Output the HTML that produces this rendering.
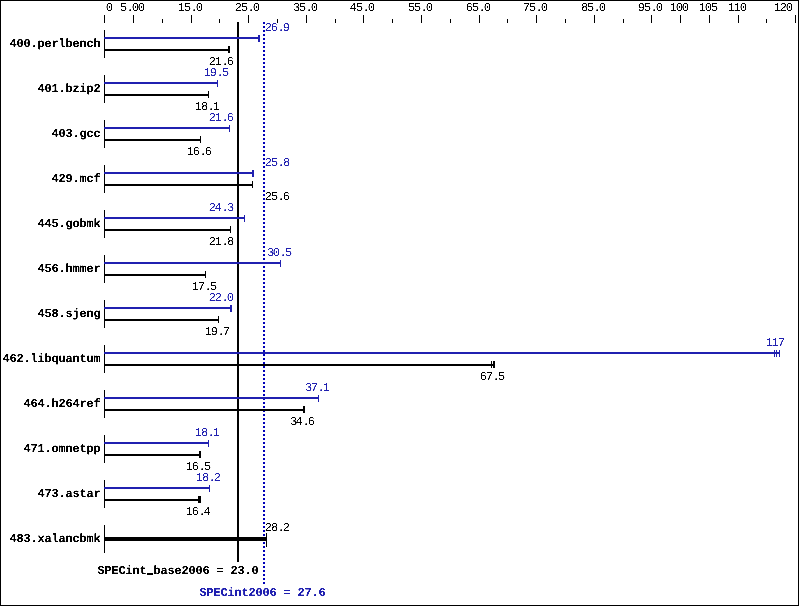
<!DOCTYPE html>
<html><head><meta charset="utf-8"><style>
html,body{margin:0;padding:0;background:#fff;width:799px;height:606px;overflow:hidden}
svg{display:block}
text{font-family:"Liberation Mono",monospace;font-size:12px;white-space:pre;text-rendering:geometricPrecision}
text.r{letter-spacing:-1.2px}
text.b{font-weight:bold;letter-spacing:-0.2px;stroke-width:0.1px}
</style></head><body>
<svg width="799" height="606" viewBox="0 0 799 606" shape-rendering="crispEdges">
<rect width="799" height="606" fill="#fff"/>
<rect x="0" y="0" width="799" height="1" fill="#000"/>
<rect x="0" y="605" width="799" height="1" fill="#000"/>
<rect x="0" y="0" width="1" height="606" fill="#000"/>
<rect x="798" y="0" width="1" height="606" fill="#000"/>
<rect x="104" y="15" width="1" height="8" fill="#000"/>
<rect x="133" y="15" width="1" height="8" fill="#000"/>
<rect x="162" y="19" width="1" height="4" fill="#000"/>
<rect x="191" y="15" width="1" height="8" fill="#000"/>
<rect x="219" y="19" width="1" height="4" fill="#000"/>
<rect x="248" y="15" width="1" height="8" fill="#000"/>
<rect x="277" y="19" width="1" height="4" fill="#000"/>
<rect x="306" y="15" width="1" height="8" fill="#000"/>
<rect x="335" y="19" width="1" height="4" fill="#000"/>
<rect x="363" y="15" width="1" height="8" fill="#000"/>
<rect x="392" y="19" width="1" height="4" fill="#000"/>
<rect x="421" y="15" width="1" height="8" fill="#000"/>
<rect x="450" y="19" width="1" height="4" fill="#000"/>
<rect x="479" y="15" width="1" height="8" fill="#000"/>
<rect x="507" y="19" width="1" height="4" fill="#000"/>
<rect x="536" y="15" width="1" height="8" fill="#000"/>
<rect x="565" y="19" width="1" height="4" fill="#000"/>
<rect x="594" y="15" width="1" height="8" fill="#000"/>
<rect x="623" y="19" width="1" height="4" fill="#000"/>
<rect x="651" y="15" width="1" height="8" fill="#000"/>
<rect x="680" y="15" width="1" height="8" fill="#000"/>
<rect x="709" y="15" width="1" height="8" fill="#000"/>
<rect x="738" y="15" width="1" height="8" fill="#000"/>
<rect x="766" y="19" width="1" height="4" fill="#000"/>
<rect x="795" y="15" width="1" height="8" fill="#000"/>
<rect x="237" y="22" width="2" height="540" fill="#000"/>
<path d="M263 22h2v2h-2zM263 26h2v2h-2zM263 30h2v2h-2zM263 34h2v2h-2zM263 38h2v2h-2zM263 42h2v2h-2zM263 46h2v2h-2zM263 50h2v2h-2zM263 54h2v2h-2zM263 58h2v2h-2zM263 62h2v2h-2zM263 66h2v2h-2zM263 70h2v2h-2zM263 74h2v2h-2zM263 78h2v2h-2zM263 82h2v2h-2zM263 86h2v2h-2zM263 90h2v2h-2zM263 94h2v2h-2zM263 98h2v2h-2zM263 102h2v2h-2zM263 106h2v2h-2zM263 110h2v2h-2zM263 114h2v2h-2zM263 118h2v2h-2zM263 122h2v2h-2zM263 126h2v2h-2zM263 130h2v2h-2zM263 134h2v2h-2zM263 138h2v2h-2zM263 142h2v2h-2zM263 146h2v2h-2zM263 150h2v2h-2zM263 154h2v2h-2zM263 158h2v2h-2zM263 162h2v2h-2zM263 166h2v2h-2zM263 170h2v2h-2zM263 174h2v2h-2zM263 178h2v2h-2zM263 182h2v2h-2zM263 186h2v2h-2zM263 190h2v2h-2zM263 194h2v2h-2zM263 198h2v2h-2zM263 202h2v2h-2zM263 206h2v2h-2zM263 210h2v2h-2zM263 214h2v2h-2zM263 218h2v2h-2zM263 222h2v2h-2zM263 226h2v2h-2zM263 230h2v2h-2zM263 234h2v2h-2zM263 238h2v2h-2zM263 242h2v2h-2zM263 246h2v2h-2zM263 250h2v2h-2zM263 254h2v2h-2zM263 258h2v2h-2zM263 262h2v2h-2zM263 266h2v2h-2zM263 270h2v2h-2zM263 274h2v2h-2zM263 278h2v2h-2zM263 282h2v2h-2zM263 286h2v2h-2zM263 290h2v2h-2zM263 294h2v2h-2zM263 298h2v2h-2zM263 302h2v2h-2zM263 306h2v2h-2zM263 310h2v2h-2zM263 314h2v2h-2zM263 318h2v2h-2zM263 322h2v2h-2zM263 326h2v2h-2zM263 330h2v2h-2zM263 334h2v2h-2zM263 338h2v2h-2zM263 342h2v2h-2zM263 346h2v2h-2zM263 350h2v2h-2zM263 354h2v2h-2zM263 358h2v2h-2zM263 362h2v2h-2zM263 366h2v2h-2zM263 370h2v2h-2zM263 374h2v2h-2zM263 378h2v2h-2zM263 382h2v2h-2zM263 386h2v2h-2zM263 390h2v2h-2zM263 394h2v2h-2zM263 398h2v2h-2zM263 402h2v2h-2zM263 406h2v2h-2zM263 410h2v2h-2zM263 414h2v2h-2zM263 418h2v2h-2zM263 422h2v2h-2zM263 426h2v2h-2zM263 430h2v2h-2zM263 434h2v2h-2zM263 438h2v2h-2zM263 442h2v2h-2zM263 446h2v2h-2zM263 450h2v2h-2zM263 454h2v2h-2zM263 458h2v2h-2zM263 462h2v2h-2zM263 466h2v2h-2zM263 470h2v2h-2zM263 474h2v2h-2zM263 478h2v2h-2zM263 482h2v2h-2zM263 486h2v2h-2zM263 490h2v2h-2zM263 494h2v2h-2zM263 498h2v2h-2zM263 502h2v2h-2zM263 506h2v2h-2zM263 510h2v2h-2zM263 514h2v2h-2zM263 518h2v2h-2zM263 522h2v2h-2zM263 526h2v2h-2zM263 530h2v2h-2zM263 534h2v2h-2zM263 538h2v2h-2zM263 542h2v2h-2zM263 546h2v2h-2zM263 550h2v2h-2zM263 554h2v2h-2zM263 558h2v2h-2zM263 562h2v2h-2zM263 566h2v2h-2zM263 570h2v2h-2zM263 574h2v2h-2zM263 578h2v2h-2zM263 582h2v2h-2z" fill="#0000b8"/>
<rect x="104" y="30" width="1" height="28" fill="#000"/>
<rect x="104" y="37" width="156" height="2" fill="#2020b0"/>
<rect x="258" y="35" width="1" height="7" fill="#2020b0"/>
<rect x="259" y="35" width="1" height="7" fill="#2020b0"/>
<rect x="104" y="49" width="126" height="2" fill="#000"/>
<rect x="228" y="46" width="1" height="7" fill="#000"/>
<rect x="229" y="46" width="1" height="7" fill="#000"/>
<rect x="104" y="75" width="1" height="28" fill="#000"/>
<rect x="104" y="82" width="114" height="2" fill="#2020b0"/>
<rect x="217" y="80" width="1" height="7" fill="#2020b0"/>
<rect x="104" y="94" width="105" height="2" fill="#000"/>
<rect x="208" y="91" width="1" height="7" fill="#000"/>
<rect x="104" y="120" width="1" height="28" fill="#000"/>
<rect x="104" y="127" width="126" height="2" fill="#2020b0"/>
<rect x="229" y="125" width="1" height="7" fill="#2020b0"/>
<rect x="104" y="139" width="97" height="2" fill="#000"/>
<rect x="200" y="136" width="1" height="7" fill="#000"/>
<rect x="104" y="165" width="1" height="28" fill="#000"/>
<rect x="104" y="172" width="150" height="2" fill="#2020b0"/>
<rect x="252" y="170" width="1" height="7" fill="#2020b0"/>
<rect x="253" y="170" width="1" height="7" fill="#2020b0"/>
<rect x="104" y="184" width="149" height="2" fill="#000"/>
<rect x="252" y="181" width="1" height="7" fill="#000"/>
<rect x="104" y="210" width="1" height="28" fill="#000"/>
<rect x="104" y="217" width="141" height="2" fill="#2020b0"/>
<rect x="244" y="215" width="1" height="7" fill="#2020b0"/>
<rect x="104" y="229" width="127" height="2" fill="#000"/>
<rect x="230" y="226" width="1" height="7" fill="#000"/>
<rect x="104" y="255" width="1" height="28" fill="#000"/>
<rect x="104" y="262" width="177" height="2" fill="#2020b0"/>
<rect x="280" y="260" width="1" height="7" fill="#2020b0"/>
<rect x="104" y="274" width="102" height="2" fill="#000"/>
<rect x="205" y="271" width="1" height="7" fill="#000"/>
<rect x="104" y="300" width="1" height="28" fill="#000"/>
<rect x="104" y="307" width="128" height="2" fill="#2020b0"/>
<rect x="230" y="305" width="1" height="7" fill="#2020b0"/>
<rect x="231" y="305" width="1" height="7" fill="#2020b0"/>
<rect x="104" y="319" width="115" height="2" fill="#000"/>
<rect x="218" y="316" width="1" height="7" fill="#000"/>
<rect x="104" y="345" width="1" height="28" fill="#000"/>
<rect x="104" y="352" width="676" height="2" fill="#2020b0"/>
<rect x="774" y="350" width="1" height="7" fill="#2020b0"/>
<rect x="776" y="350" width="1" height="7" fill="#2020b0"/>
<rect x="779" y="350" width="1" height="7" fill="#2020b0"/>
<rect x="104" y="364" width="391" height="2" fill="#000"/>
<rect x="491" y="361" width="1" height="7" fill="#000"/>
<rect x="493" y="361" width="1" height="7" fill="#000"/>
<rect x="494" y="361" width="1" height="7" fill="#000"/>
<rect x="104" y="390" width="1" height="28" fill="#000"/>
<rect x="104" y="397" width="215" height="2" fill="#2020b0"/>
<rect x="318" y="395" width="1" height="7" fill="#2020b0"/>
<rect x="104" y="409" width="201" height="2" fill="#000"/>
<rect x="303" y="406" width="1" height="7" fill="#000"/>
<rect x="304" y="406" width="1" height="7" fill="#000"/>
<rect x="104" y="435" width="1" height="28" fill="#000"/>
<rect x="104" y="442" width="105" height="2" fill="#2020b0"/>
<rect x="208" y="440" width="1" height="7" fill="#2020b0"/>
<rect x="104" y="454" width="97" height="2" fill="#000"/>
<rect x="199" y="451" width="1" height="7" fill="#000"/>
<rect x="200" y="451" width="1" height="7" fill="#000"/>
<rect x="104" y="480" width="1" height="28" fill="#000"/>
<rect x="104" y="487" width="106" height="2" fill="#2020b0"/>
<rect x="209" y="485" width="1" height="7" fill="#2020b0"/>
<rect x="104" y="499" width="97" height="2" fill="#000"/>
<rect x="198" y="496" width="1" height="7" fill="#000"/>
<rect x="199" y="496" width="1" height="7" fill="#000"/>
<rect x="200" y="496" width="1" height="7" fill="#000"/>
<rect x="104" y="525" width="1" height="28" fill="#000"/>
<rect x="104" y="537" width="162" height="4" fill="#000"/>
<rect x="266" y="533" width="1" height="14" fill="#000"/>
<rect x="147" y="573" width="6" height="2" fill="#000"/>
<defs>
<filter id="tr" filterUnits="userSpaceOnUse" x="0" y="0" width="799" height="606" color-interpolation-filters="sRGB"><feComponentTransfer><feFuncA type="table" tableValues="0 0 1 1"/></feComponentTransfer></filter>
<filter id="tb" filterUnits="userSpaceOnUse" x="0" y="0" width="799" height="606" color-interpolation-filters="sRGB"><feComponentTransfer><feFuncA type="table" tableValues="0 0 1 1"/></feComponentTransfer></filter>
</defs>
<g filter="url(#tr)">
<text class="r" x="105.75" y="11.0" fill="#000">0</text>
<text class="r" x="120 126.5 131.75 137.75" y="11.0" fill="#000">5.00</text>
<text class="r" x="669.75 675.75 681.75" y="11.0" fill="#000">100</text>
<text class="r" x="698.75 704.75 711" y="11.0" fill="#000">105</text>
<text class="r" x="727.75 733.75 739.75" y="11.0" fill="#000">110</text>
<text class="r" x="773.75 779.75 785.75" y="11.0" fill="#000">120</text>
<text class="r" x="177.75 184 190.5 195.75" y="11.0" fill="#000">15.0</text>
<text class="r" x="234.75 241 247.5 252.75" y="11.0" fill="#000">25.0</text>
<text class="r" x="293 299 305.5 310.75" y="11.0" fill="#000">35.0</text>
<text class="r" x="349.5 356 362.5 367.75" y="11.0" fill="#000">45.0</text>
<text class="r" x="408 414 420.5 425.75" y="11.0" fill="#000">55.0</text>
<text class="r" x="465.75 472 478.5 483.75" y="11.0" fill="#000">65.0</text>
<text class="r" x="522.75 529 535.5 540.75" y="11.0" fill="#000">75.0</text>
<text class="r" x="581 587 593.5 598.75" y="11.0" fill="#000">85.0</text>
<text class="r" x="637.75 644 650.5 655.75" y="11.0" fill="#000">95.0</text>
<text class="r" x="264.75 270.75 277.5 282.75" y="31.0" fill="#2020b0">26.9</text>
<text class="r" x="208.75 214.75 221.5 226.75" y="65.0" fill="#000">21.6</text>
<text class="r" x="203.75 209.75 216.5 222" y="76.0" fill="#2020b0">19.5</text>
<text class="r" x="194.75 201 207.5 212.75" y="110.0" fill="#000">18.1</text>
<text class="r" x="208.75 214.75 221.5 226.75" y="121.0" fill="#2020b0">21.6</text>
<text class="r" x="186.75 192.75 199.5 204.75" y="155.0" fill="#000">16.6</text>
<text class="r" x="264.75 271 277.5 283" y="166.0" fill="#2020b0">25.8</text>
<text class="r" x="264.75 271 277.5 282.75" y="200.0" fill="#000">25.6</text>
<text class="r" x="208.75 214.5 221.5 227" y="211.0" fill="#2020b0">24.3</text>
<text class="r" x="208.75 214.75 221.5 227" y="245.0" fill="#000">21.8</text>
<text class="r" x="267 272.75 279.5 285" y="256.0" fill="#2020b0">30.5</text>
<text class="r" x="191.75 197.75 204.5 210" y="290.0" fill="#000">17.5</text>
<text class="r" x="208.75 214.75 221.5 226.75" y="301.0" fill="#2020b0">22.0</text>
<text class="r" x="204.75 210.75 217.5 222.75" y="335.0" fill="#000">19.7</text>
<text class="r" x="765.75 771.75 777.75" y="346.0" fill="#2020b0">117</text>
<text class="r" x="479.75 485.75 492.5 498" y="380.0" fill="#000">67.5</text>
<text class="r" x="305 310.75 317.5 322.75" y="391.0" fill="#2020b0">37.1</text>
<text class="r" x="290 295.5 302.5 307.75" y="425.0" fill="#000">34.6</text>
<text class="r" x="194.75 201 207.5 212.75" y="436.0" fill="#2020b0">18.1</text>
<text class="r" x="185.75 191.75 198.5 204" y="470.0" fill="#000">16.5</text>
<text class="r" x="195.75 202 208.5 213.75" y="481.0" fill="#2020b0">18.2</text>
<text class="r" x="185.75 191.75 198.5 203.5" y="515.0" fill="#000">16.4</text>
<text class="r" x="264.75 271 277.5 282.75" y="531.0" fill="#000">28.2</text>
</g>
<g filter="url(#tb)">
<text class="b" x="9.5 16.5 23.5 30.5 37.5 44.5 51.5 58.5 65.5 72.5 79.5 86.5 93.5" y="47.0" fill="#000" stroke="#000">400.perlbench</text>
<text class="b" x="37.5 44.5 51.5 58.5 65.5 72.5 79.5 86.5 93.5" y="92.0" fill="#000" stroke="#000">401.bzip2</text>
<text class="b" x="51.5 58.5 65.5 72.5 79.5 86.5 93.5" y="137.0" fill="#000" stroke="#000">403.gcc</text>
<text class="b" x="51.5 58.5 65.5 72.5 79.5 86.5 93.5" y="182.0" fill="#000" stroke="#000">429.mcf</text>
<text class="b" x="37.5 44.5 51.5 58.5 65.5 72.5 79.5 86.5 93.5" y="227.0" fill="#000" stroke="#000">445.gobmk</text>
<text class="b" x="37.5 44.5 51.5 58.5 65.5 72.5 79.5 86.5 93.5" y="272.0" fill="#000" stroke="#000">456.hmmer</text>
<text class="b" x="37.5 44.5 51.5 58.5 65.5 72.5 79.5 86.5 93.5" y="317.0" fill="#000" stroke="#000">458.sjeng</text>
<text class="b" x="2.5 9.5 16.5 23.5 30.5 37.5 44.5 51.5 58.5 65.5 72.5 79.5 86.5 93.5" y="362.0" fill="#000" stroke="#000">462.libquantum</text>
<text class="b" x="23.5 30.5 37.5 44.5 51.5 58.5 65.5 72.5 79.5 86.5 93.5" y="407.0" fill="#000" stroke="#000">464.h264ref</text>
<text class="b" x="23.5 30.5 37.5 44.5 51.5 58.5 65.5 72.5 79.5 86.5 93.5" y="452.0" fill="#000" stroke="#000">471.omnetpp</text>
<text class="b" x="37.5 44.5 51.5 58.5 65.5 72.5 79.5 86.5 93.5" y="497.0" fill="#000" stroke="#000">473.astar</text>
<text class="b" x="9.5 16.5 23.5 30.5 37.5 44.5 51.5 58.5 65.5 72.5 79.5 86.5 93.5" y="542.0" fill="#000" stroke="#000">483.xalancbmk</text>
<text dy="0 0 0 0 0 0 0 -1 1" class="b" x="97.5 104.5 111.5 118.5 125.5 132.5 139.5 146.5 153.5 160.5 167.5 174.5 181.5 188.5 195.5 202.5 209.5 216.5 223.5 230.5 237.5 244.5 251.5" y="574.0" fill="#000" stroke="#000">SPECint_base2006 = 23.0</text>
<text class="b" x="199.5 206.5 213.5 220.5 227.5 234.5 241.5 248.5 255.5 262.5 269.5 276.5 283.5 290.5 297.5 304.5 311.5 318.5" y="596.0" fill="#2020b0" stroke="#2020b0">SPECint2006 = 27.6</text>
</g>
</svg>
</body></html>
